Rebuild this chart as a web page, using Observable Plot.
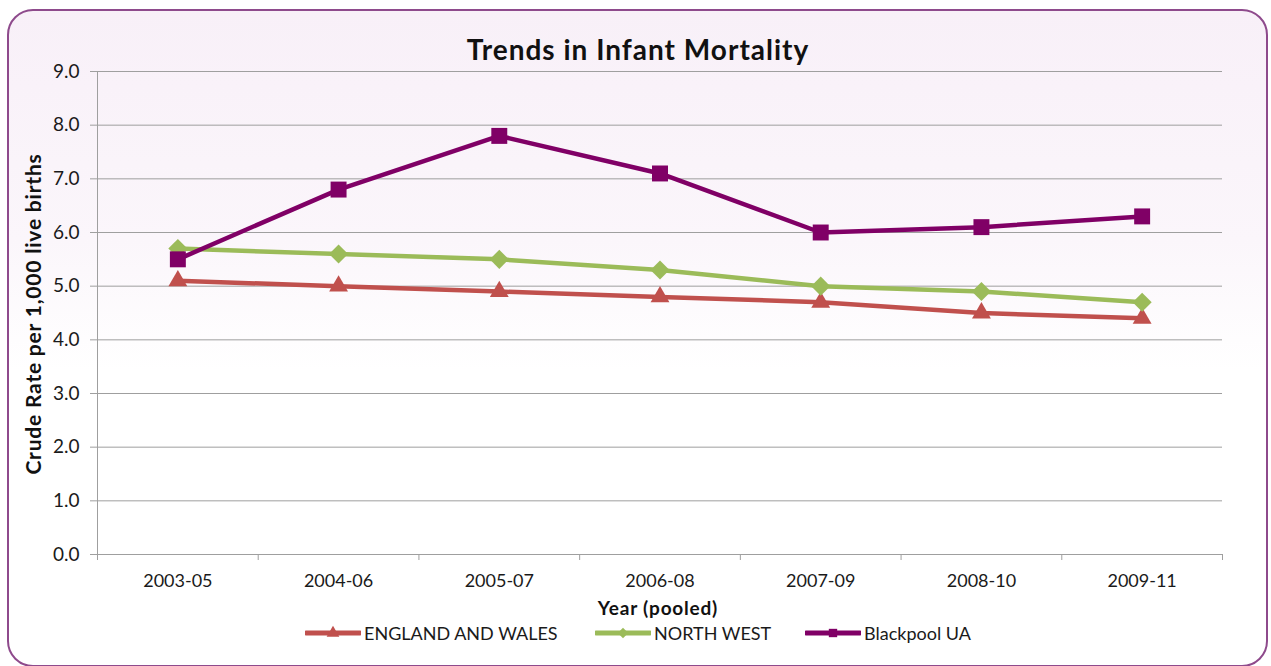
<!DOCTYPE html>
<html>
<head>
<meta charset="utf-8">
<script src="https://cdn.jsdelivr.net/npm/d3@7"></script>
<script src="https://cdn.jsdelivr.net/npm/@observablehq/plot@0.6"></script>
<style>
  html, body { margin: 0; padding: 0; background: #fff; }
  #wrap { position: relative; width: 1271px; height: 666px; overflow: hidden; font-family: Lato, "Open Sans", sans-serif; color: #1a1a1a; }
  #frame { position: absolute; left: 7px; top: 9px; width: 1257px; height: 654px; border: 2.5px solid #8E4A8C; border-radius: 26px;
           background: linear-gradient(to bottom, #F8F0F8 0%, #FBF6FB 35%, #FFFFFF 55%, #FFFFFF 100%); }
  #chart { position: absolute; left: 0; top: 0; }
  #title { position: absolute; left: 0; width: 1276px; top: 32px; text-align: center; font-weight: bold; font-size: 28px; letter-spacing: 1px; color: #111; }
  #ylab { position: absolute; left: 32px; top: 314px; transform: translate(-50%, -50%) rotate(-90deg); white-space: nowrap; font-weight: bold; font-size: 21px; letter-spacing: 0.8px; color: #111; }
  #xlab { position: absolute; left: 658px; top: 596px; transform: translateX(-50%); font-weight: bold; font-size: 19px; letter-spacing: 0.8px; white-space: nowrap; color: #111; }
  .leg { position: absolute; top: 622px; display: flex; align-items: center; font-size: 18px; white-space: nowrap; }
  .leg svg { margin-right: 3px; }
</style>
</head>
<body>
<div id="wrap">
  <div id="frame"></div>
  <div id="chart"></div>
  <div id="title">Trends in Infant Mortality</div>
  <div id="ylab">Crude Rate per 1,000 live births</div>
  <div id="xlab">Year (pooled)</div>
  <div id="legend"></div>
</div>
<script>
const years = ["2003-05", "2004-06", "2005-07", "2006-08", "2007-09", "2008-10", "2009-11"];
const englandWales = [5.1, 5.0, 4.9, 4.8, 4.7, 4.5, 4.4];
const northWest = [5.7, 5.6, 5.5, 5.3, 5.0, 4.9, 4.7];
const blackpool = [5.5, 6.8, 7.8, 7.1, 6.0, 6.1, 6.3];
const seriesNames = ["ENGLAND AND WALES", "NORTH WEST", "Blackpool UA"];
const seriesColors = ["#C0504D", "#9BBB59", "#800066"];
const seriesSymbols = ["triangle", "diamond2", "square"];
const seriesR = [7, 8.6, 9];
const yTicks = [0, 1, 2, 3, 4, 5, 6, 7, 8, 9];

const seriesValues = [englandWales, northWest, blackpool];
const rows = [];
seriesValues.forEach((vals, s) => vals.forEach((v, i) => rows.push({series: seriesNames[s], idx: i, year: years[i], value: v})));

const idxTicks = years.map((_, i) => i);
const boundaries = [...years.map((_, i) => i - 0.5), years.length - 0.5];

const marks = [
  Plot.gridY(yTicks, {stroke: "#9f9f9f", strokeOpacity: 1, strokeWidth: 1}),
  Plot.axisY(yTicks, {tickSize: 7, tickPadding: 11, tickFormat: d => d.toFixed(1), stroke: "#9f9f9f", label: null, fontSize: 19}),
  Plot.axisX(boundaries, {tickSize: 6, tickFormat: () => "", stroke: "#9f9f9f", label: null}),
  Plot.axisX(idxTicks, {tickSize: 0, tickPadding: 20, tickFormat: i => years[i], label: null, fontSize: 18}),
  Plot.ruleX([-0.5], {y1: 0, y2: 9, stroke: "#9f9f9f"}),
  Plot.ruleY([0], {stroke: "#9f9f9f"})
];
seriesNames.forEach((name, s) => {
  const data = rows.filter(d => d.series === name);
  marks.push(Plot.line(data, {x: "idx", y: "value", stroke: seriesColors[s], strokeWidth: 4.5}));
  marks.push(Plot.dot(data, {x: "idx", y: "value", symbol: seriesSymbols[s], r: seriesR[s], fill: seriesColors[s], stroke: "none"}));
});

const chart = Plot.plot({
  width: 1271,
  height: 666,
  marginLeft: 97,
  marginRight: 49,
  marginTop: 71,
  marginBottom: 112,
  style: {background: "transparent", fontFamily: "Lato, 'Open Sans', sans-serif", fontSize: "18px", color: "#1a1a1a"},
  x: {type: "linear", domain: [-0.5, years.length - 0.5]},
  y: {type: "linear", domain: [0, 9]},
  marks
});
document.getElementById("chart").appendChild(chart);

// legend
const legendX = [305, 595, 805];
const legend = document.getElementById("legend");
seriesNames.forEach((name, s) => {
  const item = document.createElement("div");
  item.className = "leg";
  item.style.left = legendX[s] + "px";
  const svg = d3.create("svg").attr("width", 56).attr("height", 20);
  svg.append("line").attr("x1", 1).attr("x2", 55).attr("y1", 10).attr("y2", 10)
     .attr("stroke", seriesColors[s]).attr("stroke-width", 5).attr("stroke-linecap", "round");
  const sym = {triangle: d3.symbolTriangle, diamond2: d3.symbolDiamond2, square: d3.symbolSquare}[seriesSymbols[s]];
  svg.append("path").attr("transform", "translate(28,10)").attr("d", d3.symbol(sym, 70)()).attr("fill", seriesColors[s]);
  item.appendChild(svg.node());
  const span = document.createElement("span");
  span.textContent = name;
  item.appendChild(span);
  legend.appendChild(item);
});
</script>
</body>
</html>
